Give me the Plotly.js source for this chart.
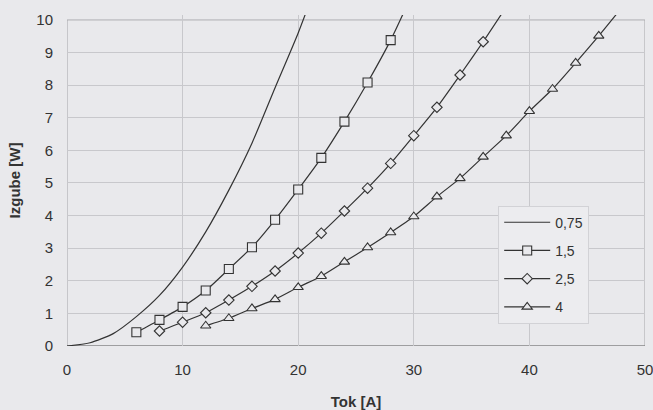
<!DOCTYPE html>
<html>
<head>
<meta charset="utf-8">
<script src="https://cdn.plot.ly/plotly-3.0.1.min.js"></script>
<style>html,body{margin:0;padding:0;background:#e9e9ec;}</style>
</head>
<body>
<div id="chart" style="width:653px;height:410px;"></div>
<script>
// Tok [A] (current) and Izgube [W] (losses) per cross-section
const names = ["0,75", "1,5", "2,5", "4"];
const x075 = [0, 2, 4, 6, 8, 10, 12, 14, 16, 18, 20, 22];
const y075 = [0, 0.1, 0.38, 0.9, 1.55, 2.42, 3.5, 4.78, 6.22, 7.92, 9.6, 11.5];
const x15 = [6, 8, 10, 12, 14, 16, 18, 20, 22, 24, 26, 28, 30];
const y15 = [0.42, 0.8, 1.2, 1.7, 2.36, 3.03, 3.87, 4.8, 5.77, 6.88, 8.08, 9.38, 10.9];
const x25 = [8, 10, 12, 14, 16, 18, 20, 22, 24, 26, 28, 30, 32, 34, 36, 38];
const y25 = [0.46, 0.73, 1.02, 1.41, 1.83, 2.3, 2.85, 3.46, 4.14, 4.84, 5.6, 6.45, 7.32, 8.31, 9.33, 10.4];
const x4 = [12, 14, 16, 18, 20, 22, 24, 26, 28, 30, 32, 34, 36, 38, 40, 42, 44, 46, 48];
const y4 = [0.62, 0.85, 1.15, 1.43, 1.8, 2.14, 2.58, 3.02, 3.48, 3.97, 4.58, 5.14, 5.8, 6.45, 7.2, 7.88, 8.68, 9.51, 10.38];
const xTicks = [0, 10, 20, 30, 40, 50];
const yTicks = [0, 1, 2, 3, 4, 5, 6, 7, 8, 9, 10];

const bg = "#e9e9ec";
const ink = "#333333";
function mk(sym, size) {
  return {symbol: sym, size: size, color: bg, line: {color: ink, width: 1.1}};
}
const ln = {color: ink, width: 1.2, shape: "spline", smoothing: 0.6};
const traces = [
  {x: x075, y: y075, name: names[0], mode: "lines", legendgroup: "a", line: ln},
  {x: x15, y: y15, name: names[1], mode: "lines+markers", legendgroup: "b", line: ln, marker: mk("square", 9)},
  {x: x25, y: y25, name: names[2], mode: "lines+markers", legendgroup: "c", line: ln, marker: mk("diamond", 8)},
  {x: x4, y: y4, name: names[3], mode: "lines+markers", legendgroup: "d", line: ln, marker: mk("triangle-up", 9)}
];
const fontFam = "Arial, 'Liberation Sans', sans-serif";
const layout = {
  width: 653, height: 410,
  margin: {l: 67, r: 8, t: 15, b: 64},
  paper_bgcolor: bg, plot_bgcolor: bg,
  font: {family: fontFam, size: 15, color: "#333"},
  showlegend: true,
  legend: {x: 0.746, y: 0.424, xanchor: "left", yanchor: "top",
    bgcolor: "#ececef", bordercolor: "#d2d2d6", borderwidth: 1,
    font: {size: 14, color: "#333"}, tracegroupgap: 7, itemwidth: 46},
  xaxis: {range: [0, 50], tickvals: xTicks, ticktext: xTicks.map(String),
    showgrid: true, gridcolor: "#c8c8cc", gridwidth: 1, zeroline: false,
    showline: false, ticks: "outside", ticklen: 10, tickcolor: "rgba(0,0,0,0)",
    ticklabeloverflow: "allow",
    title: {text: "<b>Tok [A]</b>", font: {size: 15, color: "#333"}, standoff: 20}},
  yaxis: {range: [0, 10.15], tickvals: yTicks, ticktext: yTicks.map(String),
    showgrid: true, gridcolor: "#c8c8cc", gridwidth: 1, zeroline: false,
    showline: false, ticks: "outside", ticklen: 10, tickcolor: "rgba(0,0,0,0)",
    ticklabeloverflow: "allow",
    title: {text: "<b>Izgube [W]</b>", font: {size: 15, color: "#333"}, standoff: 12}},
  shapes: [
    {type: "rect", xref: "x", yref: "y", x0: 0, x1: 50, y0: 0, y1: 10,
     line: {color: "#a4a4a8", width: 1}, layer: "below"},
    {type: "line", xref: "x", yref: "y", x0: 0, x1: 50, y0: 0, y1: 0,
     line: {color: "#777", width: 1.2}, layer: "below"}
  ]
};
Plotly.newPlot("chart", traces, layout, {displayModeBar: false, staticPlot: true});
</script>
</body>
</html>
